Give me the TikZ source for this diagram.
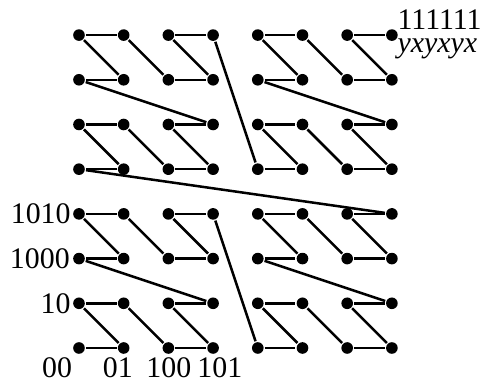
\documentclass[tikz,border=0pt]{standalone}
\usepackage{fontspec}
\setmainfont{Liberation Serif}
\tikzset{
  dot/.style={circle,fill,inner sep=0pt,minimum size=0.26cm},
  lab/.style={inner sep=0pt,font=\fontsize{19}{22}\selectfont},
}
\begin{document}
\begin{tikzpicture}[line width=1.6pt]
		\useasboundingbox (-1.767,-0.783) rectangle (9.15,7.785);
		% dots of the 8x8 grid, numbered along the curve
		\foreach \i in {0,...,63}{
			\pgfmathtruncatemacro{\px}{mod(\i,2)+2*mod(div(\i,4),2)+4*mod(div(\i,16),2)}
			\pgfmathtruncatemacro{\py}{mod(div(\i,2),2)+2*mod(div(\i,8),2)+4*mod(div(\i,32),2)}
			\node[dot] (p\i) at (\px,\py) {};
		}
		\foreach \i [remember=\i as \j (initially 0)] in {1,...,63}
			\draw (p\j) -- (p\i);
		\node[lab,anchor=east] (l1010) at (-0.16,3) {1010};
		\node[lab,anchor=east] (l1000) at (-0.18,2) {1000};
		\node[lab,anchor=east] (l10) at (-0.16,1) {10};
		\node[lab] (l00) at (-0.49,-0.44) {00};
		\node[lab] (l01) at (0.87,-0.45) {01};
		\node[lab] (l100) at (2.01,-0.45) {100};
		\node[lab] (l101) at (3.15,-0.45) {101};
		\node[lab,anchor=base west] (ltop) at (7.1,7.12) {111111};
		\node[lab,anchor=base west] (lxy) at (7.1,6.6) {\itshape yxyxyx};
\end{tikzpicture}
\end{document}
